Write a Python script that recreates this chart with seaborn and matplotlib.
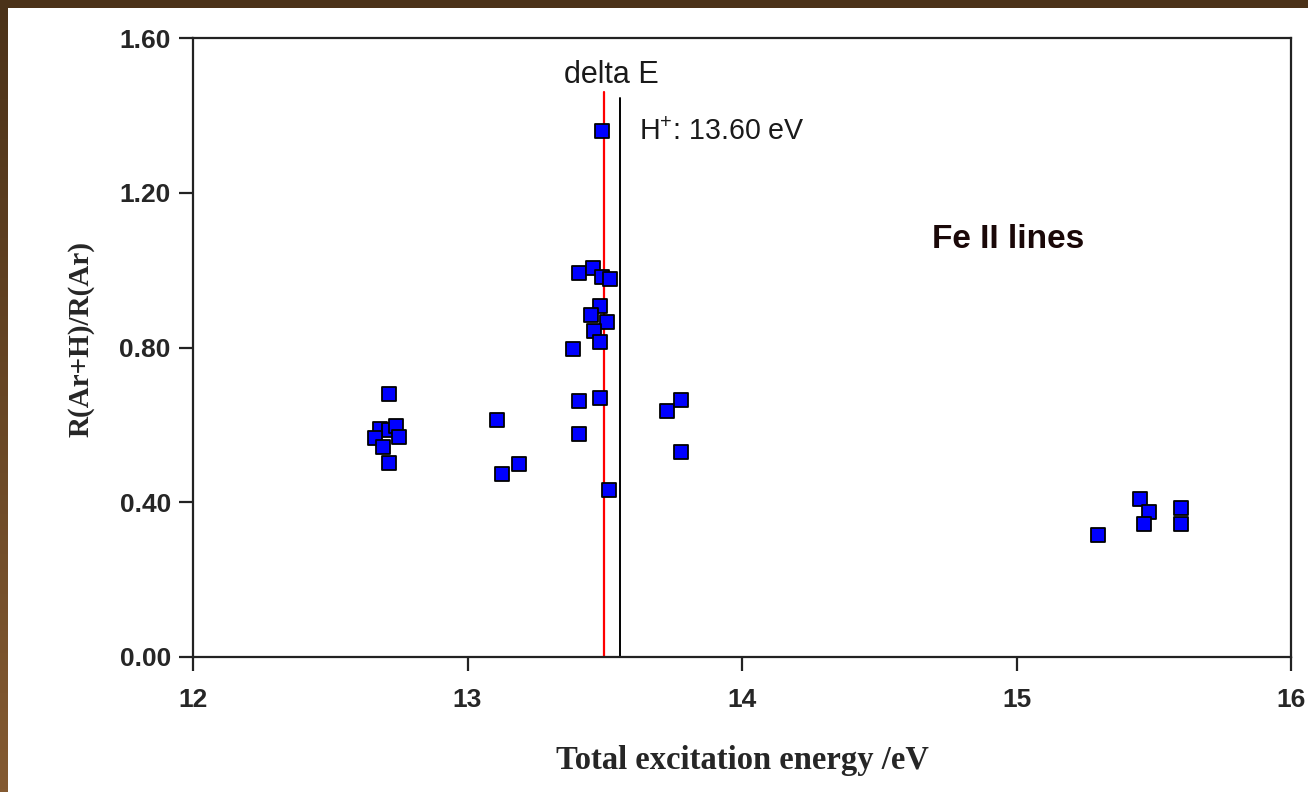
import numpy as np
import pandas as pd
import matplotlib
matplotlib.use("Agg")
import matplotlib.pyplot as plt
from matplotlib.colors import LinearSegmentedColormap
from matplotlib.patches import Rectangle
import seaborn as sns

# ---- data ----
energy = [12.715, 12.683, 12.715, 12.740, 12.750, 12.664, 12.691, 12.715,
          13.107, 13.124, 13.189,
          13.490, 13.408, 13.458, 13.491, 13.520, 13.483, 13.449, 13.508,
          13.460, 13.483, 13.385, 13.408, 13.483, 13.408, 13.517,
          13.727, 13.778, 13.778,
          15.296, 15.450, 15.483, 15.466, 15.598, 15.598]
ratio = [0.680, 0.589, 0.587, 0.597, 0.569, 0.565, 0.542, 0.501,
         0.612, 0.472, 0.499,
         1.359, 0.993, 1.005, 0.981, 0.976, 0.908, 0.883, 0.867,
         0.843, 0.813, 0.797, 0.663, 0.669, 0.577, 0.432,
         0.636, 0.664, 0.530,
         0.316, 0.409, 0.375, 0.345, 0.386, 0.345]
delta_e_x = 13.497
h_ion_x = 13.555
x_ticks = [12, 13, 14, 15, 16]
y_ticks = [0.0, 0.4, 0.8, 1.2, 1.6]
y_tick_labels = ["0.00", "0.40", "0.80", "1.20", "1.60"]

df = pd.DataFrame({"energy": energy, "ratio": ratio})

sns.set_style("white")
plt.rcParams["font.family"] = ["Liberation Sans", "DejaVu Sans"]

W, H = 1308, 792
fig = plt.figure(figsize=(W / 100, H / 100), dpi=100, facecolor="white")

# brown frame (top band + left gradient strip)
bg = fig.add_axes([0, 0, 8 / W, 1])
grad = np.linspace(0, 1, 256).reshape(-1, 1)
cmap = LinearSegmentedColormap.from_list("brown", ["#4b3219", "#845a31"])
bg.imshow(grad, aspect="auto", cmap=cmap, extent=[0, 1, 0, 1], origin="upper")
bg.set_axis_off()
fig.add_artist(Rectangle((0, 1 - 8 / H), 1, 8 / H, transform=fig.transFigure,
                         facecolor="#4b3219", edgecolor="none"))

ax = fig.add_axes([193 / W, 1 - 657 / H, (1291 - 193) / W, (657 - 38) / H])

sns.scatterplot(data=df, x="energy", y="ratio", ax=ax, marker="s", s=95,
                color="#0000ff", edgecolor="black", linewidth=1.3, zorder=3,
                legend=False)

ax.axvline(delta_e_x, ymin=0, ymax=1.460 / 1.6, color="#ff0000", lw=1.6, zorder=2)
ax.axvline(h_ion_x, ymin=0, ymax=1.444 / 1.6, color="black", lw=1.4, zorder=2)

ax.set_xlim(12, 16)
ax.set_ylim(0, 1.6)
ax.set_xticks(x_ticks)
ax.set_xticklabels([str(t) for t in x_ticks])
ax.set_yticks(y_ticks)
ax.set_yticklabels(y_tick_labels)

for sp in ax.spines.values():
    sp.set_visible(True)
    sp.set_color("#222222")
    sp.set_linewidth(1.6)

ax.tick_params(axis="both", which="major", bottom=True, left=True, top=False,
               right=False, direction="out", length=10, width=1.6,
               color="#222222", labelsize=19)
ax.tick_params(axis="y", pad=6)
ax.tick_params(axis="x", pad=12)
for lab in ax.get_xticklabels() + ax.get_yticklabels():
    lab.set_fontweight("bold")

ax.set_xlabel("Total excitation energy /eV", family="Liberation Serif",
              fontweight="bold", fontsize=23.5, labelpad=24)
ax.set_ylabel("R(Ar+H)/R(Ar)", family="Liberation Serif",
              fontweight="bold", fontsize=21)
ax.yaxis.set_label_coords(-0.090, 0.514)

ax.text(13.525, 1.504, "delta E", ha="center", va="center", fontsize=22,
        color="#1a1a1a")
ax.text(13.625, 1.357, r"$\mathregular{H^{+}}$: 13.60 eV", ha="left", va="center",
        fontsize=20.6, color="#1a1a1a")
ax.text(14.969, 1.080, "Fe II lines", ha="center", va="center", fontsize=24,
        fontweight="bold", color="#1a0808")

fig.savefig("out.png", dpi=100, facecolor="white")
